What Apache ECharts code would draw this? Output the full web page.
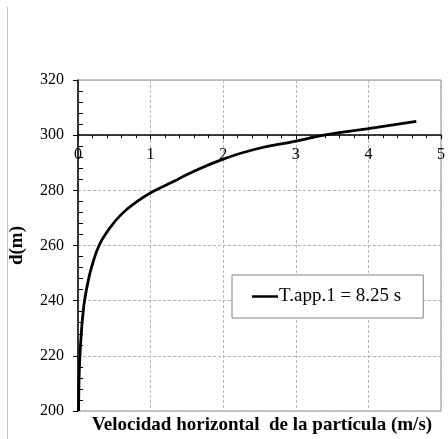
<!DOCTYPE html>
<html>
<head>
<meta charset="utf-8">
<script src="https://cdn.jsdelivr.net/npm/echarts@6/dist/echarts.min.js"></script>
<style>
  html, body { margin: 0; padding: 0; background: #fff; }
  #chart { width: 448px; height: 439px; }
</style>
</head>
<body>
<div id="chart"></div>
<script>
// Horizontal particle velocity (m/s) against depth d (m)
const seriesName = 'T.app.1 = 8.25 s';
const velocity = [0.009, 0.014, 0.027, 0.048, 0.068, 0.09, 0.14, 0.198, 0.29, 0.405, 0.59, 0.81, 1.0, 1.315, 1.54, 2.0, 2.44, 3.0, 3.39, 4.0, 4.66];
const depth    = [200, 211, 220, 229.1, 235.1, 240, 247.1, 253.1, 260, 265.1, 271.1, 275.9, 279.1, 283.2, 286.2, 291.3, 294.9, 297.8, 300, 302.4, 305.0];
const xTicks = [0, 1, 2, 3, 4, 5];
const yTicks = [200, 220, 240, 260, 280, 300, 320];
const xTitle = 'Velocidad horizontal  de la partícula (m/s)';
const yTitle = 'd(m)';

const FONT = '"Liberation Serif", "Times New Roman", serif';
const chart = echarts.init(document.getElementById('chart'));

const gridLeft = 76, gridTop = 80, gridW = 371, gridH = 331;
const yMin = yTicks[0], yMax = yTicks[yTicks.length - 1];
// x axis crosses the vertical axis at d = 300
const xAxisOffset = -gridH * (yMax - 300) / (yMax - yMin);

chart.setOption({
  animation: false,
  backgroundColor: '#fff',
  grid: {
    left: gridLeft, top: gridTop, width: gridW, height: gridH,
    show: true, borderColor: '#8c8c8c', borderWidth: 1, backgroundColor: 'transparent'
  },
  legend: {
    left: 232, top: 275,
    padding: [12, 22, 12, 20],
    borderColor: '#808080', borderWidth: 1,
    backgroundColor: '#fff',
    icon: 'rect', itemWidth: 26, itemHeight: 2.5, itemGap: 0,
    textStyle: { fontFamily: FONT, fontSize: 19, color: '#000', padding: [2, 0, 0, -4] },
    data: [seriesName]
  },
  xAxis: {
    type: 'value', position: 'top', offset: xAxisOffset,
    min: xTicks[0], max: xTicks[xTicks.length - 1], interval: 1,
    axisLine: { show: true, lineStyle: { color: '#000', width: 1.5 } },
    axisTick: { show: true, inside: true, length: 4, lineStyle: { color: '#000', width: 1 } },
    minorTick: { show: true, splitNumber: 5, length: 3, lineStyle: { color: '#000', width: 1 } },
    axisLabel: { inside: true, margin: 12, fontFamily: FONT, fontSize: 16, color: '#000',
                 showMinLabel: true, showMaxLabel: true },
    splitLine: { show: true, lineStyle: { color: '#b4b4b4', type: [3, 2], width: 1 } }
  },
  yAxis: [{
    type: 'value', position: 'left',
    min: yMin, max: yMax, interval: 20,
    name: yTitle, nameLocation: 'middle', nameRotate: 90, nameGap: 51,
    nameTextStyle: { fontFamily: FONT, fontSize: 19, fontWeight: 'bold', color: '#000' },
    axisLine: { show: true, lineStyle: { color: '#000', width: 1.5 } },
    axisTick: { show: true, inside: false, length: 5, lineStyle: { color: '#000', width: 1 } },
    axisLabel: { margin: 14, fontFamily: FONT, fontSize: 16, color: '#000' },
    splitLine: { show: true, lineStyle: { color: '#b4b4b4', type: [3, 2], width: 1 } }
  }, {
    // inner minor ticks along the vertical axis
    type: 'value', position: 'left', offset: 0,
    min: yMin, max: yMax, interval: 20,
    axisLine: { show: false },
    axisTick: { show: false, inside: true },
    minorTick: { show: true, splitNumber: 5, length: 5, lineStyle: { color: '#000', width: 1 } },
    axisLabel: { show: false },
    splitLine: { show: false }
  }],
  graphic: [
    { type: 'line', shape: { x1: 7.5, y1: 7, x2: 7.5, y2: 439 },
      style: { stroke: '#c4c4c4', lineWidth: 1 }, silent: true },
    { type: 'text', x: 262, y: 425,
      style: { text: xTitle, fontFamily: FONT, fontSize: 19, fontWeight: 'bold',
               fill: '#000', align: 'center', verticalAlign: 'middle' } }
  ],
  series: [{
    name: seriesName,
    type: 'line',
    data: velocity.map((v, i) => [v, depth[i]]),
    smooth: 0.5,
    showSymbol: false,
    lineStyle: { color: '#000', width: 2.8 },
    itemStyle: { color: '#000' },
    z: 5
  }]
});
</script>
</body>
</html>
